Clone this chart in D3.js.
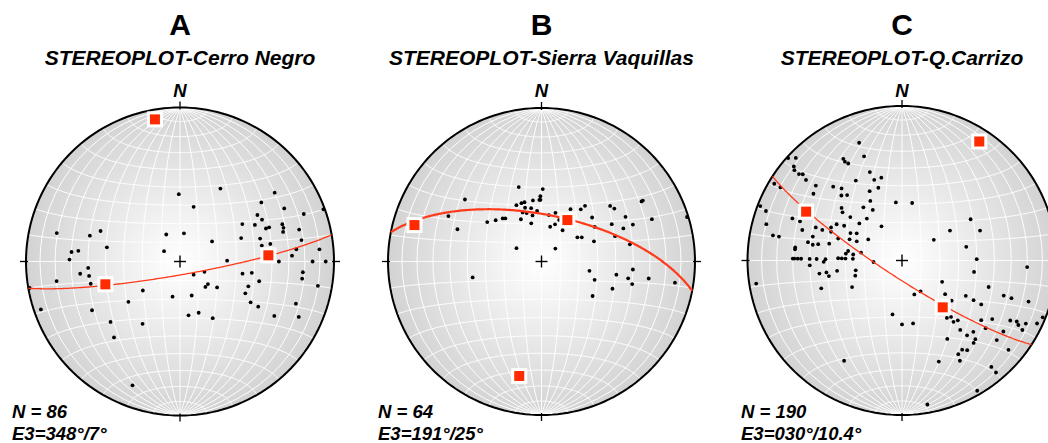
<!DOCTYPE html>
<html><head><meta charset="utf-8">
<script src="https://cdn.jsdelivr.net/npm/d3@7"></script>
<style>html,body{margin:0;padding:0;background:#fff;} svg{display:block;}</style>
</head><body><svg id="chart" width="1048" height="443"></svg>
<script>
// ---------- data (trend°, plunge°), lower hemisphere ----------
const panelLetters = ["A", "B", "C"];
const siteNames = ["Cerro Negro", "Sierra Vaquillas", "Q.Carrizo"];
const counts = [86, 64, 190];
const e3Labels = ["348°/7°", "191°/25°", "030°/10.4°"];

const polesA = [
[359,54],[29,45],[14,60],[54,25],[54,35],[63,25],[70,1],[59,41],[63,40],[69,15],
[59,51],[64,45],[69,40],[69,38],[70,30],[72,30],[74,31],[75,21],[69,55],[74,45],
[80,21],[8,75],[333,74],[58,70],[303,80],[283,19],[286,39],[291,44],[281,50],[275,30],
[276,34],[271,29],[266,40],[263,35],[261,40],[256,40],[261,20],[260,1],[251,5],[241,35],
[229,40],[221,35],[232,55],[232,65],[211,51],[201,15],[192,71],[161,71],[171,61],[160,61],
[150,55],[134,80],[113,76],[129,71],[135,71],[125,66],[89,65],[101,56],[99,51],[104,46],
[110,51],[116,51],[120,46],[120,41],[120,30],[110,21],[115,16],[95,21],[98,21],[100,10],
[90,36],[87,28],[84,25],[90,15],[90,6],[85,10],[79,40],[79,45]
];
const polesB = [
[343,48],[1,51],[359,55],[359,57],[309,36],[336,57],[341,57],[344,57],[352,57],[358,57],
[343,60],[349,61],[355,63],[339,62],[343,63],[349,65],[334,65],[345,69],[16,63],[9,65],
[23,66],[20,69],[14,71],[34,70],[29,58],[37,55],[38,52],[49,54],[57,56],[56,67],
[59,65],[69,60],[51,42],[54,41],[62,38],[62,47],[68,42],[68,36],[71,48],[79,41],
[59,25],[59,24],[69,24],[73,1],[296,33],[291,41],[306,54],[312,57],[318,59],[320,60],
[298,75],[47,80],[257,52],[101,64],[109,60],[124,57],[100,49],[95,40],[101,42],[104,39],
[111,49],[99,30],[99,13]
];
const polesC = [
[340,20],[340,29],[330,25],[330,27],[331,29],[312,1],[314,5],[311,8],[310,10],[310,14],
[310,20],[340,39],[346,44],[341,44],[330,40],[301,4],[301,9],[311,27],[320,39],[317,42],
[320,44],[342,49],[335,49],[307,29],[291,2],[290,7],[332,54],[324,55],[330,59],[311,47],
[309,49],[354,59],[10,59],[291,25],[291,30],[285,10],[299,50],[301,54],[310,54],[311,60],
[320,61],[329,69],[295,48],[287,33],[291,40],[291,44],[292,49],[281,16],[281,20],[285,40],
[289,54],[298,59],[301,62],[292,60],[302,69],[281,38],[280,41],[281,44],[283,50],[293,64],
[277,31],[276,31],[280,61],[277,60],[281,68],[277,64],[267,75],[271,30],[271,31],[271,33],
[271,35],[271,40],[271,44],[271,49],[272,56],[272,58],[272,60],[272,64],[267,40],[269,48],
[261,45],[261,49],[258,50],[261,55],[258,65],[252,64],[261,5],[251,44],[242,60],[210,26],
[311,16],[317,35],
[57,70],[58,60],[59,47],[69,45],[78,55],[89,50],[99,51],[93,20],[118,66],[107,41],
[149,71],[160,71],[128,61],[129,56],[119,51],[119,46],[119,41],[109,31],[109,26],[108,15],
[190,61],[180,56],[170,56],[142,51],[139,50],[140,47],[137,46],[127,36],[123,31],[119,21],
[118,17],[119,15],[117,11],[120,11],[115,4],[112,2],[129,31],[125,21],[140,41],[139,36],
[135,35],[137,31],[139,30],[130,21],[150,41],[130,11],[144,29],[146,31],[149,30],[150,26],
[160,31],[140,11],[140,6],[150,3],[170,6]
];
// principal axes: first = E3 (pole of the red great circle), then E1, E2
const axesA = [[350,7],[86,42],[253,48]];
const axesB = [[191,25],[286,15],[32,64]];
const axesC = [[33,9],[297,31],[139,57]];

const poles = [polesA, polesB, polesC];
const axes = [axesA, axesB, axesC];

// ---------- layout ----------
const layout = [
  {cx:180,   cy:261.5, R:154,   textX:12,  lineW:1.3},
  {cx:541.5, cy:261.5, R:153.5, textX:378, lineW:2.2},
  {cx:902,   cy:260.5, R:154.5, textX:741, lineW:1.3}
];
const FONT = "'Liberation Sans', Arial, Helvetica, sans-serif";

const svg = d3.select("#chart");
const defs = svg.append("defs");
const grad = defs.append("radialGradient").attr("id","netfill");
grad.append("stop").attr("offset","0%").attr("stop-color","#ffffff");
grad.append("stop").attr("offset","100%").attr("stop-color","#d3d3d3");

function toLonLat(tp) {
  const t = tp[0]*Math.PI/180, p = tp[1]*Math.PI/180;
  const n = Math.cos(p)*Math.cos(t), e = Math.cos(p)*Math.sin(t), d = Math.sin(p);
  return [Math.atan2(e, d)*180/Math.PI, Math.asin(n)*180/Math.PI];
}

const graticule = d3.geoGraticule()
  .extentMajor([[-180,-90],[180,90]])
  .extentMinor([[-180,-90],[180,90]])
  .step([10,10]).precision(1);

layout.forEach((L, i) => {
  const proj = d3.geoAzimuthalEqualArea()
    .rotate([0,0])
    .scale(L.R / Math.SQRT2)
    .translate([L.cx, L.cy])
    .clipAngle(90)
    .precision(0.2);
  const path = d3.geoPath(proj);
  const g = svg.append("g");

  // titles
  g.append("text").attr("x", L.cx).attr("y", 35).attr("text-anchor","middle")
    .attr("font-family", FONT).attr("font-weight","bold").attr("font-size", 30)
    .text(panelLetters[i]);
  g.append("text").attr("x", L.cx).attr("y", 64.5).attr("text-anchor","middle")
    .attr("font-family", FONT).attr("font-weight","bold").attr("font-style","italic").attr("font-size", 21)
    .text("STEREOPLOT-" + siteNames[i]);
  g.append("text").attr("x", L.cx).attr("y", 96.5).attr("text-anchor","middle")
    .attr("font-family", FONT).attr("font-weight","bold").attr("font-style","italic").attr("font-size", 18.5)
    .text("N");

  // net
  g.append("path").datum({type:"Sphere"}).attr("d", path).attr("fill","url(#netfill)");
  g.append("path").datum(graticule()).attr("d", path)
    .attr("fill","none").attr("stroke","#ffffff").attr("stroke-width",1).attr("stroke-opacity",0.95);
  g.append("path").datum({type:"Sphere"}).attr("d", path)
    .attr("fill","none").attr("stroke","#000").attr("stroke-width",2);

  // ticks at N, E, S, W
  const tickDirs = [[0,-1],[1,0],[0,1],[-1,0]];
  g.selectAll("line.tick").data(tickDirs).join("line")
    .attr("x1", d => L.cx + d[0]*(L.R-2)).attr("y1", d => L.cy + d[1]*(L.R-2))
    .attr("x2", d => L.cx + d[0]*(L.R+6)).attr("y2", d => L.cy + d[1]*(L.R+6))
    .attr("stroke","#000").attr("stroke-width",1.3);
  // centre cross
  g.append("line").attr("x1",L.cx-6).attr("x2",L.cx+6).attr("y1",L.cy).attr("y2",L.cy)
    .attr("stroke","#000").attr("stroke-width",1.4);
  g.append("line").attr("x1",L.cx).attr("x2",L.cx).attr("y1",L.cy-6).attr("y2",L.cy+6)
    .attr("stroke","#000").attr("stroke-width",1.4);

  // poles
  g.selectAll("circle.pole").data(poles[i]).join("circle")
    .attr("cx", d => proj(toLonLat(d))[0])
    .attr("cy", d => proj(toLonLat(d))[1])
    .attr("r", 1.9).attr("fill","#000");

  // great circle normal to E3
  const ring = d3.geoCircle().center(toLonLat(axes[i][0])).radius(90).precision(1)().coordinates[0];
  g.append("path").datum({type:"LineString", coordinates: ring}).attr("d", path)
    .attr("fill","none").attr("stroke","#ff3a1a").attr("stroke-width", L.lineW);

  // principal axes squares
  const sq = g.selectAll("g.axis").data(axes[i]).join("g")
    .attr("transform", d => { const p = proj(toLonLat(d)); return `translate(${p[0]},${p[1]})`; });
  sq.append("rect").attr("x",-8).attr("y",-8).attr("width",16).attr("height",16).attr("fill","#fff");
  sq.append("rect").attr("x",-5).attr("y",-5).attr("width",10).attr("height",10).attr("fill","#ff2a00");

  // stats
  g.append("text").attr("x", L.textX).attr("y", 418)
    .attr("font-family", FONT).attr("font-weight","bold").attr("font-style","italic").attr("font-size", 18.5)
    .text("N = " + counts[i]);
  g.append("text").attr("x", L.textX).attr("y", 440)
    .attr("font-family", FONT).attr("font-weight","bold").attr("font-style","italic").attr("font-size", 18.5)
    .text("E3=" + e3Labels[i]);
});
</script>
</body></html>
